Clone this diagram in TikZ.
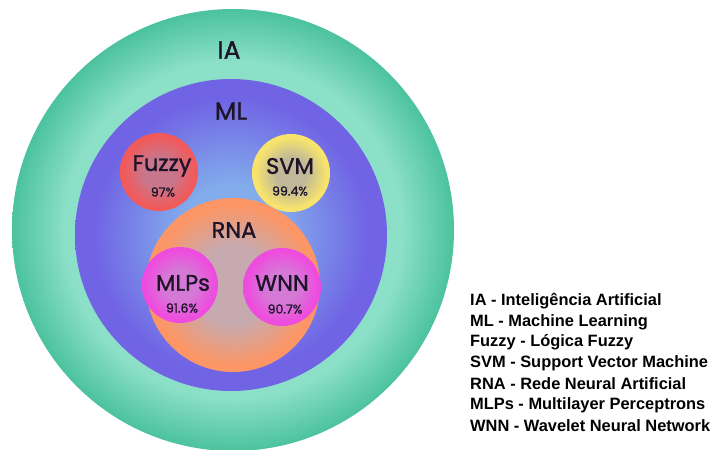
\documentclass[tikz,border=0pt]{standalone}
\usepackage{fontspec}
\setmainfont{Liberation Sans}
\newfontfamily\circfont{Poppins}[FakeBold=1.2]
\definecolor{iain}{RGB}{140,224,200}
\definecolor{iaout}{RGB}{76,194,158}
\definecolor{mlin}{RGB}{130,172,236}
\definecolor{mlout}{RGB}{112,100,228}
\definecolor{fzin}{RGB}{200,118,140}
\definecolor{fzout}{RGB}{242,90,90}
\definecolor{svin}{RGB}{192,184,152}
\definecolor{svout}{RGB}{248,228,108}
\definecolor{rnin}{RGB}{198,170,176}
\definecolor{rnout}{RGB}{252,150,102}
\definecolor{mgin}{RGB}{212,122,214}
\definecolor{mgout}{RGB}{238,76,222}
\definecolor{txt}{RGB}{30,20,40}
\pgfdeclareradialshading{iashade}{\pgfpoint{0bp}{0bp}}{color(0bp)=(iain); color(19bp)=(iain); color(25bp)=(iaout); color(50bp)=(iaout)}
\pgfdeclareradialshading{mlshade}{\pgfpoint{0bp}{0bp}}{color(0bp)=(mlin); color(8bp)=(mlin); color(22bp)=(mlout); color(50bp)=(mlout)}
\pgfdeclareradialshading{fzshade}{\pgfpoint{0bp}{0bp}}{color(0bp)=(fzin); color(10bp)=(fzin); color(23bp)=(fzout); color(50bp)=(fzout)}
\pgfdeclareradialshading{svshade}{\pgfpoint{0bp}{0bp}}{color(0bp)=(svin); color(10bp)=(svin); color(23bp)=(svout); color(50bp)=(svout)}
\pgfdeclareradialshading{rnshade}{\pgfpoint{0bp}{0bp}}{color(0bp)=(rnin); color(11bp)=(rnin); color(23bp)=(rnout); color(50bp)=(rnout)}
\pgfdeclareradialshading{mgshade}{\pgfpoint{0bp}{0bp}}{color(0bp)=(mgin); color(10bp)=(mgin); color(23bp)=(mgout); color(50bp)=(mgout)}
\begin{document}
\begin{tikzpicture}[x=1pt,y=-1pt]
\useasboundingbox[fill=white] (0,0) rectangle (713,450);
 \tikzstyle{conj}=[draw=none,shape=circle,inner sep=0pt];
 \tikzstyle{biglbl}=[text=txt,font=\circfont\fontsize{25}{25}\selectfont];
 \tikzstyle{setlbl}=[text=txt,font=\circfont\fontsize{22.5}{22.5}\selectfont];
 \tikzstyle{pct}=[text=txt,font=\circfont\fontsize{12.5}{12.5}\selectfont];
 \tikzstyle{legenda}=[anchor=west,inner sep=0pt,font=\bfseries\fontsize{16.4}{16.4}\selectfont];
% conjuntos
\node [conj,shading=iashade,minimum size=442pt] (ia) at (233,230) {};
\node [conj,shading=mlshade,minimum size=312pt] (ml) at (231,235) {};
\node [conj,shading=fzshade,minimum size=78pt] (fuzzy) at (159,172) {};
\node [conj,shading=svshade,minimum size=78pt] (svm) at (291,173) {};
\node [conj,shading=rnshade,minimum size=174pt] (rna) at (233,285) {};
\node [conj,shading=mgshade,minimum size=76pt] (mlps) at (180,285) {};
\node [conj,shading=mgshade,minimum size=78pt] (wnn) at (282,287) {};
% rotulos
\node [biglbl] (ialbl) at (229,50) {IA};
\node [biglbl] (mllbl) at (231,111) {ML};
\node [setlbl] (fuzzylbl) at (162,166) {Fuzzy};
\node [pct] (fuzzypct) at (163,192) {97\%};
\node [setlbl] (svmlbl) at (290,166) {SVM};
\node [pct] (svmpct) at (290,191) {99.4\%};
\node [setlbl] (rnalbl) at (234,230) {RNA};
\node [setlbl] (mlpslbl) at (183,283) {MLPs};
\node [pct] (mlpspct) at (182,308) {91.6\%};
\node [setlbl] (wnnlbl) at (282,283) {WNN};
\node [pct] (wnnpct) at (285,309) {90.7\%};
% legenda
\node [legenda] (l1) at (470,301) {IA - Inteligência Artificial};
\node [legenda] (l2) at (470,322) {ML - Machine Learning};
\node [legenda] (l3) at (470,342) {Fuzzy - Lógica Fuzzy};
\node [legenda] (l4) at (470,363) {SVM - Support Vector Machine};
\node [legenda] (l5) at (470,384) {RNA - Rede Neural Artificial};
\node [legenda] (l6) at (470,405) {MLPs - Multilayer Perceptrons};
\node [legenda] (l7) at (470,426) {WNN - Wavelet Neural Network};
\end{tikzpicture}
\end{document}
